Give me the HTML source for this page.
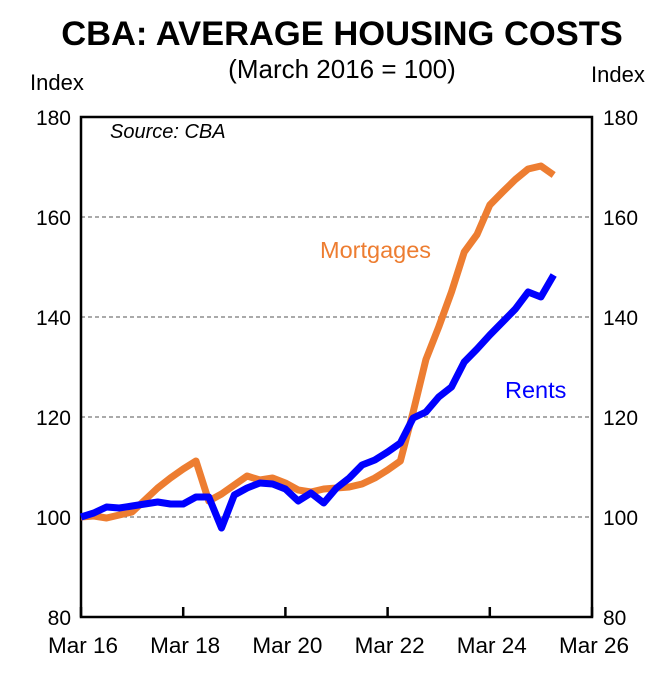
<!DOCTYPE html>
<html><head><meta charset="utf-8"><style>
body{margin:0;background:#fff;}
svg text{font-family:"Liberation Sans",Arial,sans-serif;}
</style></head><body>
<svg width="661" height="675" xmlns="http://www.w3.org/2000/svg">
<text x="342" y="45" font-size="34.5" font-weight="bold" text-anchor="middle">CBA: AVERAGE HOUSING COSTS</text>
<text x="342" y="78" font-size="26" text-anchor="middle">(March 2016 = 100)</text>
<text x="30" y="90" font-size="22">Index</text>
<text x="591" y="82" font-size="22">Index</text>
<g id="grid"></g>
<g id="ticks"></g>
<rect x="81" y="117" width="511" height="500" fill="none" stroke="#000" stroke-width="2.5"/>
<text x="110" y="138" font-size="20" font-style="italic">Source: CBA</text>
<g id="series"></g>
<text x="320" y="258" font-size="23.5" fill="#ED7D31">Mortgages</text>
<text x="505" y="398" font-size="23.5" fill="#0000FF">Rents</text>
</svg>
<script>
const xLabels=["Mar 16","Mar 18","Mar 20","Mar 22","Mar 24","Mar 26"];
const yTicks=[80,100,120,140,160,180];
const mortgages=[100,100.2,99.8,100.4,101,103.4,105.8,107.8,109.6,111.2,103.2,104.6,106.4,108.2,107.4,107.8,106.8,105.4,105,105.6,105.8,106,106.6,107.8,109.4,111.2,121,131.5,138,145,153,156.5,162.4,165,167.5,169.6,170.2,168.4];
const rents=[100,100.8,102,101.8,102.2,102.6,103,102.6,102.6,104,104,97.8,104.4,105.8,106.8,106.6,105.6,103.2,104.8,102.8,105.8,107.8,110.4,111.4,113,114.8,119.8,121,124,126,131,133.6,136.4,139,141.6,145,144,148.4];
const NS="http://www.w3.org/2000/svg";
const X0=81,X1=592,Y0=617,Y1=117;
function xs(q){return X0+q*(X1-X0)/40;}
function ys(v){return Y0-(v-80)*(Y0-Y1)/100;}
const grid=document.getElementById('grid'),ticks=document.getElementById('ticks'),series=document.getElementById('series');
yTicks.forEach(v=>{
 const y=ys(v);
 if(v>80&&v<180){const l=document.createElementNS(NS,'line');
 
 
 l.setAttribute('x1',X0);l.setAttribute('x2',X1);l.setAttribute('y1',y);l.setAttribute('y2',y);
 l.setAttribute('stroke','#555');l.setAttribute('stroke-dasharray','4,3');l.setAttribute('stroke-width','1');grid.appendChild(l);}
 const t=document.createElementNS(NS,'text');
 
 
 t.setAttribute('x',X0-10);t.setAttribute('y',y+8);t.setAttribute('text-anchor','end');t.setAttribute('font-size','21');t.textContent=v;ticks.appendChild(t);
 const t2=document.createElementNS(NS,'text');
 
 
 t2.setAttribute('x',X1+11);t2.setAttribute('y',y+8);t2.setAttribute('font-size','21');t2.textContent=v;ticks.appendChild(t2);
});
xLabels.forEach((s,i)=>{
 const x=xs(i*8);
 const l=document.createElementNS(NS,'line');
 
 
 l.setAttribute('x1',x);l.setAttribute('x2',x);l.setAttribute('y1',Y0);l.setAttribute('y2',Y0-10);l.setAttribute('stroke','#000');l.setAttribute('stroke-width','2.5');ticks.appendChild(l);
 const t=document.createElementNS(NS,'text');
 
 
 t.setAttribute('x',x+2);t.setAttribute('y',653);t.setAttribute('text-anchor','middle');t.setAttribute('font-size','22.5');t.textContent=s;ticks.appendChild(t);
});
function draw(arr,color,name){
 const p=document.createElementNS(NS,'polyline');
 
 
 p.setAttribute('points',arr.map((v,i)=>xs(i)+','+ys(v)).join(' '));
 p.setAttribute('fill','none');p.setAttribute('stroke',color);p.setAttribute('stroke-width','7');p.setAttribute('stroke-linejoin','round');
 series.appendChild(p);
}
draw(mortgages,'#ED7D31','mortgages-line');
draw(rents,'#0000FF','rents-line');
</script>
</body></html>
